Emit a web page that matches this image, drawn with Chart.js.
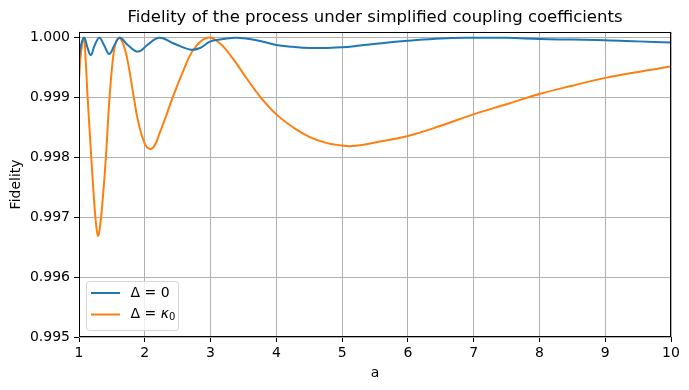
<!DOCTYPE html>
<html><head><meta charset="utf-8">
<script src="https://cdn.jsdelivr.net/npm/chart.js@4.4.0/dist/chart.umd.min.js"></script>
<style>html,body{margin:0;padding:0;background:#fff}#wrap{width:689px;height:390px}</style>
</head><body><div id="wrap"><canvas id="c" width="689" height="390"></canvas></div>
<script>
const titleText = 'Fidelity of the process under simplified coupling coefficients';
const xLabel = 'a';
const yLabel = 'Fidelity';
const xTicks = [1, 2, 3, 4, 5, 6, 7, 8, 9, 10];
const yTicks = [0.995, 0.996, 0.997, 0.998, 0.999, 1.000];
const seriesNames = ['Δ = 0', 'Δ = κ_0'];
const seriesColors = ['#1f77b4', '#ff7f0e'];

const aBlue = [1.00, 1.03, 1.08, 1.13, 1.18, 1.24, 1.31, 1.38, 1.46, 1.54, 1.62, 1.75, 1.90, 2.05, 2.22, 2.45, 2.70, 2.84, 3.00, 3.20, 3.40, 3.70, 4.00, 4.25, 4.51, 4.75, 5.00, 5.27, 5.60, 6.00, 6.50, 7.00, 7.50, 8.00, 8.50, 9.00, 9.50, 10.0];
const fBlue = [0.99965, 0.99988, 1.00000, 0.99983, 0.99971, 0.99988, 1.00000, 0.99988, 0.99973, 0.99988, 1.00000, 0.99987, 0.99977, 0.99989, 1.00000, 0.99990, 0.99980, 0.99983, 0.99994, 0.99998, 1.00000, 0.99996, 0.99988, 0.99985, 0.99983, 0.99983, 0.99984, 0.99987, 0.99991, 0.99995, 0.99999, 1.00000, 1.00000, 0.99998, 0.99997, 0.99996, 0.99994, 0.99992];

const aOrange = [1.00, 1.03, 1.076, 1.10, 1.13, 1.18, 1.23, 1.26, 1.289, 1.32, 1.36, 1.41, 1.46, 1.52, 1.57, 1.62, 1.70, 1.765, 1.84, 1.90, 2.00, 2.08, 2.15, 2.23, 2.32, 2.41, 2.59, 2.74, 2.95, 3.14, 3.34, 3.55, 3.75, 4.00, 4.26, 4.51, 4.77, 5.00, 5.15, 5.50, 6.00, 6.50, 6.94, 7.50, 8.00, 8.50, 9.00, 9.50, 10.0];
const fOrange = [0.99930, 0.99975, 1.00000, 0.99965, 0.99903, 0.99812, 0.99727, 0.99688, 0.99669, 0.99685, 0.99729, 0.99802, 0.99893, 0.99969, 0.99995, 1.00000, 0.99980, 0.99946, 0.99896, 0.99860, 0.99823, 0.99814, 0.99820, 0.99842, 0.99868, 0.99896, 0.99946, 0.99980, 1.00000, 0.99991, 0.99965, 0.99932, 0.99902, 0.99872, 0.99850, 0.99834, 0.99824, 0.99820, 0.99819, 0.99825, 0.99836, 0.99853, 0.99870, 0.99889, 0.99906, 0.99920, 0.99933, 0.99943, 0.99952];

const FONT = 'DejaVu Sans';
const toPts = (xs, ys) => xs.map((x, i) => ({x: x, y: ys[i]}));

const frameAndLegend = {
  id: 'frameAndLegend',
  afterDraw(chart) {
    const ctx = chart.ctx;
    const ca = chart.chartArea;
    ctx.save();
    ctx.strokeStyle = '#000';
    ctx.lineWidth = 1;
    ctx.strokeRect(Math.round(ca.left) + 0.5, Math.round(ca.top) + 0.5, Math.round(ca.right - ca.left) - 1, Math.round(ca.bottom - ca.top) - 1);
    const bx = ca.left + 7.5, by = ca.bottom - 55.5, bw = 92, bh = 49, r = 3;
    ctx.beginPath();
    ctx.moveTo(bx + r, by);
    ctx.lineTo(bx + bw - r, by); ctx.arcTo(bx + bw, by, bx + bw, by + r, r);
    ctx.lineTo(bx + bw, by + bh - r); ctx.arcTo(bx + bw, by + bh, bx + bw - r, by + bh, r);
    ctx.lineTo(bx + r, by + bh); ctx.arcTo(bx, by + bh, bx, by + bh - r, r);
    ctx.lineTo(bx, by + r); ctx.arcTo(bx, by, bx + r, by, r);
    ctx.closePath();
    ctx.fillStyle = 'rgba(255,255,255,0.8)';
    ctx.fill();
    ctx.strokeStyle = '#d5d5d5';
    ctx.stroke();
    chart.data.datasets.forEach((ds, i) => {
      const y = by + 11.5 + i * 21.5;
      ctx.strokeStyle = ds.borderColor;
      ctx.lineWidth = 2;
      ctx.beginPath();
      ctx.moveTo(bx + 4.5, y); ctx.lineTo(bx + 33.5, y); ctx.stroke();
      const [lhs, rhs] = ds.label.split(' = ');
      let x = bx + 44;
      ctx.fillStyle = '#000';
      ctx.textBaseline = 'middle';
      ctx.textAlign = 'left';
      ctx.font = '14px "' + FONT + '"';
      ctx.fillText(lhs, x, y); x += ctx.measureText(lhs).width;
      const eq = ' = ';
      ctx.fillText(eq, x, y); x += ctx.measureText(eq).width;
      if (rhs.includes('_')) {
        const [base, sub] = rhs.split('_');
        ctx.font = 'italic 14px "' + FONT + '"';
        ctx.fillText(base, x, y); x += ctx.measureText(base).width;
        ctx.font = '10px "' + FONT + '"';
        ctx.fillText(sub, x, y + 3);
      } else {
        ctx.fillText(rhs, x, y);
      }
    });
    ctx.restore();
  }
};

new Chart(document.getElementById('c'), {
  type: 'line',
  data: {
    datasets: [
      {label: seriesNames[0], data: toPts(aBlue, fBlue), borderColor: seriesColors[0], backgroundColor: seriesColors[0], borderWidth: 2, pointRadius: 0, tension: 0.4, fill: false},
      {label: seriesNames[1], data: toPts(aOrange, fOrange), borderColor: seriesColors[1], backgroundColor: seriesColors[1], borderWidth: 2, pointRadius: 0, tension: 0.4, fill: false}
    ]
  },
  options: {
    responsive: false,
    devicePixelRatio: 1,
    animation: false,
    layout: {padding: {left: 0, right: 18, top: 0, bottom: 0}},
    plugins: {
      legend: {display: false},
      tooltip: {enabled: false},
      title: {display: true, text: titleText, fullSize: false, color: '#000', font: {family: FONT, size: 16.5, weight: 'normal'}, padding: {top: 8, bottom: 4}}
    },
    scales: {
      x: {
        type: 'linear', min: 1, max: 10,
        afterBuildTicks: s => { s.ticks = xTicks.map(v => ({value: v})); },
        afterFit: s => { s.height = 53; },
        ticks: {color: '#000', font: {family: FONT, size: 14}, padding: 3, maxRotation: 0, callback: v => String(v)},
        grid: {color: '#b0b0b0', lineWidth: 1, tickLength: 5, tickColor: '#000', drawTicks: true},
        border: {display: false},
        title: {display: true, text: xLabel, color: '#000', font: {family: FONT, size: 14}, padding: {top: 0, bottom: 8}}
      },
      y: {
        type: 'linear', min: 0.995, max: 1.0001,
        afterBuildTicks: s => { s.ticks = yTicks.map(v => ({value: v})); },
        afterFit: s => { s.width = 79; },
        ticks: {color: '#000', font: {family: FONT, size: 14}, padding: 4, callback: v => Number(v).toFixed(3)},
        grid: {color: '#b0b0b0', lineWidth: 1, tickLength: 5, tickColor: '#000', drawTicks: true},
        border: {display: false},
        title: {display: true, text: yLabel, color: '#000', font: {family: FONT, size: 14}, padding: {top: 8, bottom: 0}}
      }
    }
  },
  plugins: [frameAndLegend]
});
</script></body></html>
